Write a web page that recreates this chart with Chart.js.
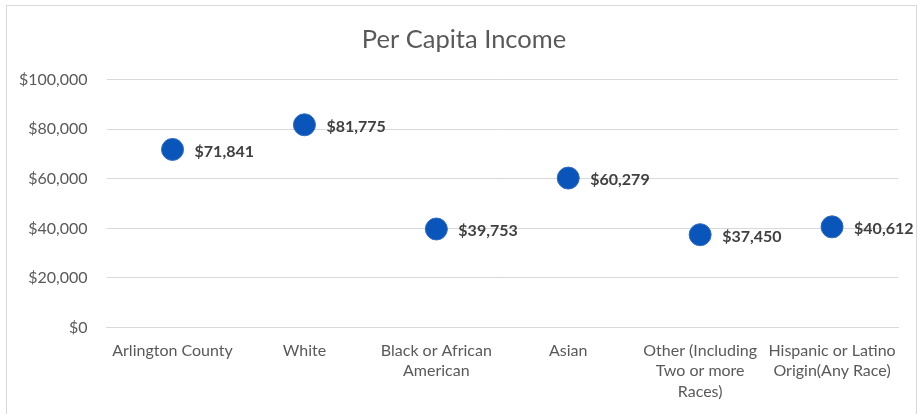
<!DOCTYPE html>
<html>
<head>
<meta charset="utf-8">
<script src="https://cdn.jsdelivr.net/npm/chart.js@4"></script>
<style>
  html, body { margin: 0; padding: 0; background: #fff; }
  #wrap { position: absolute; left: 6px; top: 5px; width: 911px; height: 420px; border: 1px solid #d9d9d9; box-sizing: border-box; }
  #box { position: absolute; left: 0; top: 0; width: 922px; height: 414px; }
</style>
</head>
<body>
<div id="wrap"></div>
<div id="box"><canvas id="chart"></canvas></div>
<script>
const categories = [
  ["Arlington County"],
  ["White"],
  ["Black or African", "American"],
  ["Asian"],
  ["Other (Including", "Two or more", "Races)"],
  ["Hispanic or Latino", "Origin(Any Race)"]
]
const incomes = [71841, 81775, 39753, 60279, 37450, 40612]
const yTicks = [0, 20000, 40000, 60000, 80000, 100000]

const money = v => '$' + v.toLocaleString('en-US')

// draws the bold value labels to the right of each point
const valueLabels = {
  id: 'valueLabels',
  afterLayout(chart) {
    // center the title on the whole frame, not just the padded box
    chart.titleBlock.left = 6
    chart.titleBlock.right = 922
  },
  afterDatasetsDraw(chart) {
    const ctx = chart.ctx
    const meta = chart.getDatasetMeta(0)
    ctx.save()
    ctx.font = 'bold 16px Lato'
    ctx.fillStyle = '#404040'
    ctx.textAlign = 'left'
    ctx.textBaseline = 'middle'
    meta.data.forEach((pt, i) => {
      ctx.fillText(money(incomes[i]), pt.x + 22, pt.y + 2)
    })
    ctx.restore()
  }
}

new Chart(document.getElementById('chart'), {
  type: 'line',
  data: {
    labels: categories,
    datasets: [{
      data: incomes,
      showLine: false,
      pointRadius: 11,
      pointHoverRadius: 11,
      backgroundColor: '#0a55b9',
      borderColor: '#2f6cc4',
      borderWidth: 1
    }]
  },
  options: {
    responsive: true,
    maintainAspectRatio: false,
    animation: false,
    layout: { padding: { left: 0, right: 24, top: 12, bottom: -1 } },
    plugins: {
      legend: { display: false },
      tooltip: { enabled: false },
      title: {
        display: true,
        text: 'Per Capita Income',
        color: '#595959',
        font: { family: 'Lato', size: 25.5, weight: 'normal' },
        padding: { top: 12, bottom: 25 }
      }
    },
    scales: {
      x: {
        offset: true,
        grid: { display: false, drawTicks: false },
        border: { display: true, color: '#d9d9d9' },
        ticks: {
          color: '#595959',
          font: { family: 'Lato', size: 16, lineHeight: 1.28 },
          padding: 13,
          maxRotation: 0,
          autoSkip: false
        }
      },
      y: {
        min: 0,
        max: 100000,
        afterBuildTicks: axis => { axis.ticks = yTicks.map(v => ({ value: v })) },
        grid: { color: '#d9d9d9', drawTicks: false },
        border: { display: false },
        ticks: {
          color: '#595959',
          font: { family: 'Lato', size: 16 },
          padding: 19,
          callback: v => money(v)
        }
      }
    }
  },
  plugins: [valueLabels]
})
</script>
</body>
</html>
